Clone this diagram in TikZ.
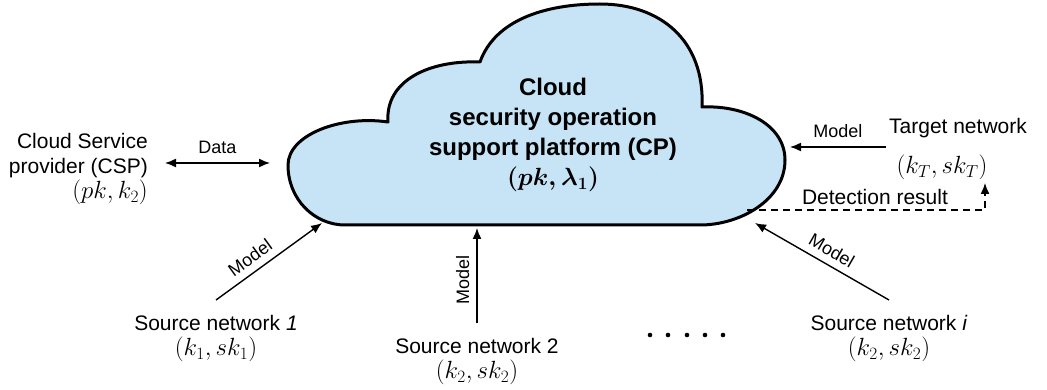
\documentclass[tikz,border=0pt]{standalone}
\usepackage{fontspec}
\setmainfont{Liberation Sans}
\usetikzlibrary{arrows.meta}
\definecolor{cloudfill}{RGB}{198,228,245}
\newcommand\mth[1]{{\fontsize{23}{25}\selectfont$#1$}}
\begin{document}
\begin{tikzpicture}[x=1pt,y=-1pt,
  txt/.style={inner sep=0pt, font=\fontsize{21}{25}\selectfont, align=center},
  lbl/.style={inner sep=0pt, font=\fontsize{18}{20}\selectfont},
  tip/.style={-{Latex[length=11pt,width=9pt]}},
  arr/.style={line width=1.4pt, tip},
  darr/.style={line width=1.4pt, {Latex[length=11pt,width=9pt]}-{Latex[length=11pt,width=9pt]}},
  cloudline/.style={line width=3pt, fill=cloudfill, line join=round}
]
\useasboundingbox (0,0) rectangle (1047,390);
% cloud
\draw[cloudline] (345,225) -- (700,225)
  .. controls (740,225) and (785,200) .. (785,160)
  .. controls (785,125) and (745,105) .. (702,107)
  .. controls (705,40) and (660,4) .. (600,4)
  .. controls (545,4) and (495,20) .. (480,62)
  .. controls (430,60) and (385,80) .. (388,122)
  .. controls (340,115) and (288,135) .. (288,165)
  .. controls (288,200) and (315,225) .. (345,225) -- cycle;
\node[anchor=north, inner sep=0pt, align=center, font=\fontsize{24}{30}\selectfont\bfseries] (cp) at (553,78)
  {Cloud\\security operation\\support platform (CP)\\{\boldmath$(pk,\lambda_1)$}};
% cloud anchor points
\coordinate (cL) at (270,163);
\coordinate (cR) at (790,147);
\coordinate (cD) at (747,210);
\coordinate (c1) at (322,223);
\coordinate (c2) at (477,228);
\coordinate (ci) at (755,223);
% outer nodes
\node[txt, align=right, anchor=north east] (csp) at (148,133) {Cloud Service\\provider (CSP)\\\mth{(pk,k_2)}};
\node[txt, anchor=north, inner xsep=3pt] (tgt) at (958,118) {Target network};
\node[txt, anchor=north] (tgtk) at (942,155) {\mth{(k_T,sk_T)}};
\coordinate (det) at (985,183);
\node[txt, anchor=north] (s1) at (216,315) {Source network \textit{1}\\\mth{(k_1,sk_1)}};
\node[txt, anchor=north] (s2) at (477,338) {Source network 2\\\mth{(k_2,sk_2)}};
\node[txt, anchor=north] (si) at (889,315) {Source network \textit{i}\\\mth{(k_2,sk_2)}};
\coordinate (cspR) at ([xshift=17pt]csp.east);
% connectors
\draw[darr] (cspR |- cL) -- (cL) node[lbl, midway, above=9pt] {Data};
\draw[arr] (tgt.west |- cR) -- (cR) node[lbl, midway, above=9pt] {Model};
\draw[arr, dashed, dash pattern=on 7pt off 5pt] (cD) -| (det)
  node[txt, pos=0.5, above=5pt, xshift=-110pt] {Detection result};
\draw[arr] ([yshift=15pt]s1.north) -- (c1) node[lbl, pos=0.4, sloped, above=7pt] {Model};
\draw[arr] ([yshift=15pt]s2.north) -- (c2) node[lbl, pos=0.45, sloped, above=7pt] {Model};
\draw[arr] ([yshift=15pt]si.north) -- (ci) node[lbl, pos=0.48, sloped, above=7pt] {Model};
% dots
\foreach \x in {650,668,687,705,723} \fill (\x,335) circle[radius=2.3pt];
\end{tikzpicture}
\end{document}
